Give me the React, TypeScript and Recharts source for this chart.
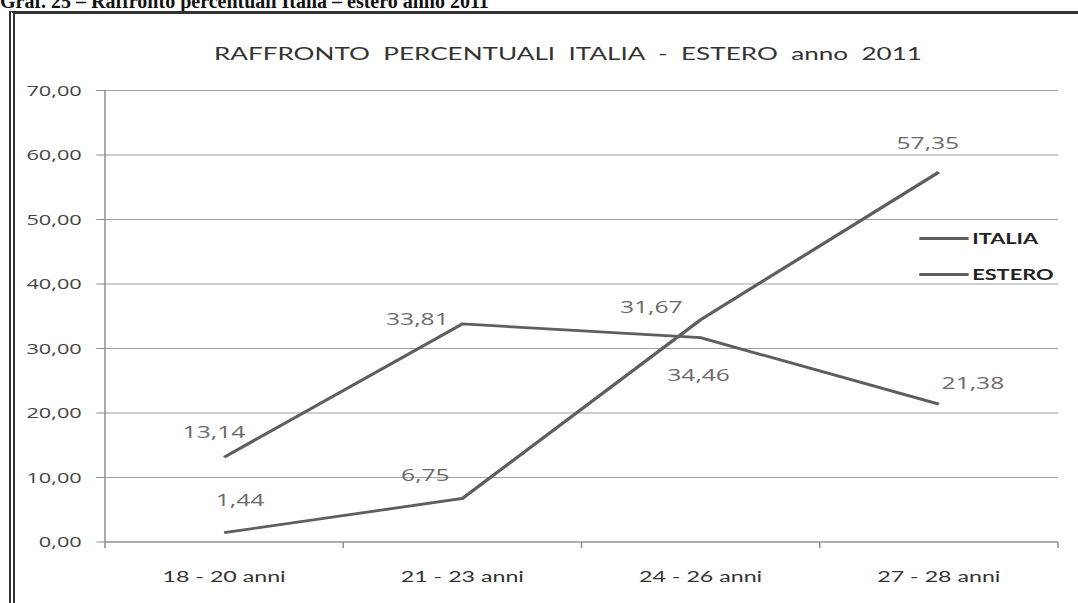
import { LineChart, Line, XAxis, YAxis, CartesianGrid, LabelList } from "recharts";

// the scanned chart is stretched horizontally, so the chart is drawn narrow and scaled back out
const SX = 1.45;
const W = 1078;
const H = 603;
const IW = W / SX;
const PLOT_LEFT = 105 / SX;
const PLOT_RIGHT = 1058 / SX;

const categories = ["18 - 20 anni", "21 - 23 anni", "24 - 26 anni", "27 - 28 anni"];
const italia = [1.44, 6.75, 34.46, 57.35];
const estero = [13.14, 33.81, 31.67, 21.38];
const yTicks = [0, 10, 20, 30, 40, 50, 60, 70];
const boundaryTicks = [0, 1, 2, 3, 4];
const seriesNames = ["ITALIA", "ESTERO"];

// hand-placed label offsets (px, from each point) as in the original
const italiaLabelOffsets = [[11, -34], [-25.5, -24], [-1.4, 54], [-7.6, -30]];
const esteroLabelOffsets = [[-7, -26], [-31, -6], [-34, -32], [23.5, -22]];

const data = categories.map((name, i) => ({
    name,
    pos: i + 0.5,
    italia: italia[i],
    estero: estero[i],
}));

const fmt = (v: number) => v.toFixed(2).replace(".", ",");

const LINE_COLOR = "#5e5e5e";
const AXIS_COLOR = "#8c8c8c";
const CAT_STEP = (PLOT_RIGHT - PLOT_LEFT) / categories.length;

// tick marks sit on category boundaries, names in the middle of each band
function CategoryTick(props: any) {
    const { x, y, payload } = props;
    const idx = Number(payload?.value);
    if (idx >= categories.length) return null;
    return (
        <text
            x={Number(x) + CAT_STEP / 2}
            y={Number(y) + 26}
            textAnchor="middle"
            dominantBaseline="central"
            fontFamily="Lato, sans-serif"
            fontSize={16}
            fill="#333"
        >
            {categories[idx]}
        </text>
    );
}

function makeLabel(offsets: number[][]) {
    return (props: any) => {
        const { x, y, value, index } = props;
        const [dx, dy] = offsets[index] ?? [0, -15];
        return (
            <text
                x={Number(x) + dx}
                y={Number(y) + dy}
                textAnchor="middle"
                dominantBaseline="central"
                fontFamily="'Open Sans', sans-serif"
                fontSize={17}
                fill="#6a6a6a"
            >
                {fmt(Number(value))}
            </text>
        );
    };
}

export default function App() {
    return (
        <div style={{ position: "absolute", left: 0, top: 0, width: W, height: H, overflow: "hidden", background: "#fff" }}>
            <div
                style={{
                    position: "absolute", left: 0, top: -9, whiteSpace: "nowrap",
                    fontFamily: "'Liberation Serif', serif", fontWeight: "bold", fontSize: 20, lineHeight: "20px", color: "#111",
                }}
            >
                Graf. 25 – Raffronto percentuali Italia – estero anno 2011
            </div>
            <div
                style={{
                    position: "absolute", left: 9, top: 11, width: 1200, height: 700,
                    borderTop: "3px solid #333", borderLeft: "6px double #333",
                }}
            />
            <div style={{ position: "absolute", left: 0, top: 0, width: IW, height: H, transform: `scaleX(${SX})`, transformOrigin: "0 0" }}>
                <div
                    style={{
                        position: "absolute", left: 391.7, top: 42, transform: "translateX(-50%)", whiteSpace: "pre",
                        fontFamily: "Lato, sans-serif", fontSize: 18, lineHeight: "22px", color: "#333",
                    }}
                >
                    {"RAFFRONTO  PERCENTUALI  ITALIA  -  ESTERO  anno  2011"}
                </div>
                <LineChart
                    width={IW}
                    height={H}
                    data={data}
                    margin={{ top: 90.5, right: IW - PLOT_RIGHT, left: 0, bottom: 0 }}
                >
                    <CartesianGrid vertical={false} stroke="#a0a0a0" horizontalValues={yTicks} />
                    <XAxis
                        dataKey="pos"
                        type="number"
                        domain={[0, 4]}
                        ticks={boundaryTicks}
                        tick={<CategoryTick />}
                        tickSize={6}
                        height={61}
                        interval={0}
                        stroke={AXIS_COLOR}
                    />
                    <YAxis
                        domain={[0, 70]}
                        ticks={yTicks}
                        width={PLOT_LEFT}
                        tickSize={6}
                        tickMargin={10}
                        interval={0}
                        stroke={AXIS_COLOR}
                        tickFormatter={fmt}
                        tick={{ fontFamily: "'Open Sans', sans-serif", fontSize: 15, fill: "#444" }}
                    />
                    <Line
                        dataKey="italia"
                        name={seriesNames[0]}
                        stroke={LINE_COLOR}
                        strokeWidth={2.8}
                        dot={false}
                        isAnimationActive={false}
                    >
                        <LabelList dataKey="italia" content={makeLabel(italiaLabelOffsets)} />
                    </Line>
                    <Line
                        dataKey="estero"
                        name={seriesNames[1]}
                        stroke={LINE_COLOR}
                        strokeWidth={2.8}
                        dot={false}
                        isAnimationActive={false}
                    >
                        <LabelList dataKey="estero" content={makeLabel(esteroLabelOffsets)} />
                    </Line>
                </LineChart>
                <div style={{ position: "absolute", left: 920 / SX, top: 226 }}>
                    {seriesNames.map((n) => (
                        <div key={n} style={{ display: "flex", alignItems: "center", height: 24, marginBottom: 12 }}>
                            <span style={{ display: "inline-block", width: 34, height: 3, background: LINE_COLOR }} />
                            <span
                                style={{
                                    marginLeft: 2, fontFamily: "Lato, sans-serif", fontWeight: "bold",
                                    fontSize: 15, color: "#222",
                                }}
                            >
                                {n}
                            </span>
                        </div>
                    ))}
                </div>
            </div>
        </div>
    );
}
